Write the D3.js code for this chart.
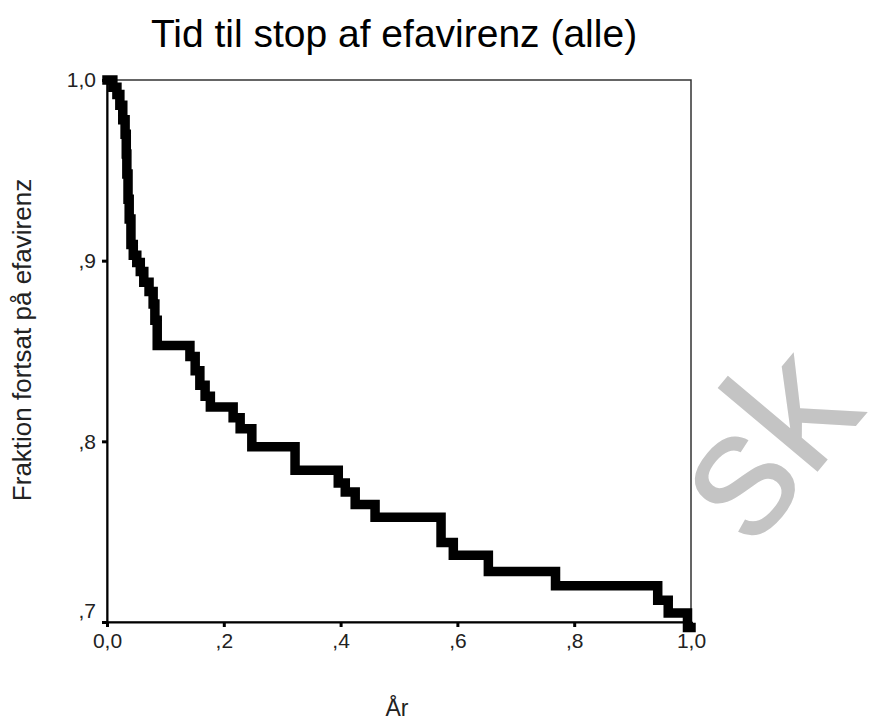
<!DOCTYPE html>
<html>
<head>
<meta charset="utf-8">
<script src="https://cdn.jsdelivr.net/npm/d3@7/dist/d3.min.js"></script>
<style>
  html, body { margin: 0; padding: 0; background: #fff; }
  svg { display: block; }
</style>
</head>
<body>
<div id="chart"></div>
<script>
// ---- Data (Kaplan-Meier step curve) ----
const times = [0, 0.010, 0.017, 0.022, 0.027, 0.031, 0.033, 0.034, 0.036, 0.038, 0.041, 0.045,
  0.051, 0.057, 0.063, 0.072, 0.079, 0.082, 0.086, 0.142, 0.151, 0.159, 0.168, 0.177, 0.216,
  0.228, 0.248, 0.322, 0.396, 0.408, 0.425, 0.459, 0.572, 0.593, 0.653, 0.768, 0.943, 0.961,
  0.994, 1.0];
const survival = [1.0, 0.996, 0.992, 0.986, 0.978, 0.970, 0.959, 0.948, 0.934, 0.923, 0.909, 0.903,
  0.899, 0.894, 0.888, 0.883, 0.876, 0.867, 0.853, 0.847, 0.839, 0.831, 0.825, 0.819, 0.813,
  0.807, 0.797, 0.784, 0.777, 0.772, 0.765, 0.758, 0.744, 0.737, 0.728, 0.720, 0.712, 0.705,
  0.697, 0.697];
const xTicks = [0, 0.2, 0.4, 0.6, 0.8, 1.0];
const xTickLabels = ["0,0", ",2", ",4", ",6", ",8", "1,0"];
const yTicks = [0.7, 0.8, 0.9, 1.0];
const yTickLabels = [",7", ",8", ",9", "1,0"];
const titleText = "Tid til stop af efavirenz (alle)";
const xLabel = "År";
const yLabel = "Fraktion fortsat på efavirenz";
const watermark = "sk";

const W = 885, H = 724;
const m = {left: 107, top: 80, right: 885 - 691, bottom: 724 - 622};
const svg = d3.select("#chart").append("svg").attr("width", W).attr("height", H);
const font = "'Liberation Sans', Arial, sans-serif";

const x = d3.scaleLinear().domain([0, 1]).range([m.left, W - m.right]);
const y = d3.scaleLinear().domain([0.7, 1.0]).range([H - m.bottom, m.top]);

// watermark
svg.append("text")
  .attr("transform", "translate(752,550) rotate(-50)")
  .attr("font-family", font).attr("font-size", 180)
  .attr("fill", "#c4c4c4").text(watermark);

// frame
svg.append("rect").attr("x", x(0)).attr("y", y(1)).attr("width", x(1) - x(0)).attr("height", y(0.7) - y(1))
  .attr("fill", "none").attr("stroke", "#333").attr("stroke-width", 1.5);

// axes
const xAxis = d3.axisBottom(x).tickValues(xTicks).tickFormat((d, i) => xTickLabels[i]).tickSize(5).tickPadding(6);
const gx = svg.append("g").attr("transform", `translate(0,${y(0.7)})`).call(xAxis);
const yAxis = d3.axisLeft(y).tickValues(yTicks).tickFormat((d, i) => yTickLabels[i]).tickSize(5).tickPadding(6);
const gy = svg.append("g").attr("transform", `translate(${x(0)},0)`).call(yAxis);
[gx, gy].forEach(g => {
  g.select(".domain").attr("stroke", "#000").attr("stroke-width", 2);
  g.selectAll(".tick line").attr("stroke", "#000").attr("stroke-width", 3);
  g.selectAll(".tick text").attr("font-family", font).attr("font-size", 21).attr("fill", "#222");
});
gy.selectAll(".tick text").filter(d => d === 0.7).attr("dy", "-0.2em");

// curve
const line = d3.line().x((d, i) => x(times[i])).y((d, i) => y(survival[i])).curve(d3.curveStepAfter);
svg.append("path").datum(times).attr("d", line)
  .attr("fill", "none").attr("stroke", "#000").attr("stroke-width", 9.5)
  .attr("stroke-linejoin", "miter").attr("stroke-linecap", "square");

// titles
svg.append("text").attr("x", 394).attr("y", 47).attr("text-anchor", "middle")
  .attr("font-family", font).attr("font-size", 39).attr("fill", "#000").text(titleText);
svg.append("text").attr("transform", `translate(31,340) rotate(-90)`).attr("text-anchor", "middle")
  .attr("font-family", font).attr("font-size", 26).attr("fill", "#222").text(yLabel);
svg.append("text").attr("x", 397).attr("y", 716).attr("text-anchor", "middle")
  .attr("font-family", font).attr("font-size", 23).attr("fill", "#222").text(xLabel);
</script>
</body>
</html>
